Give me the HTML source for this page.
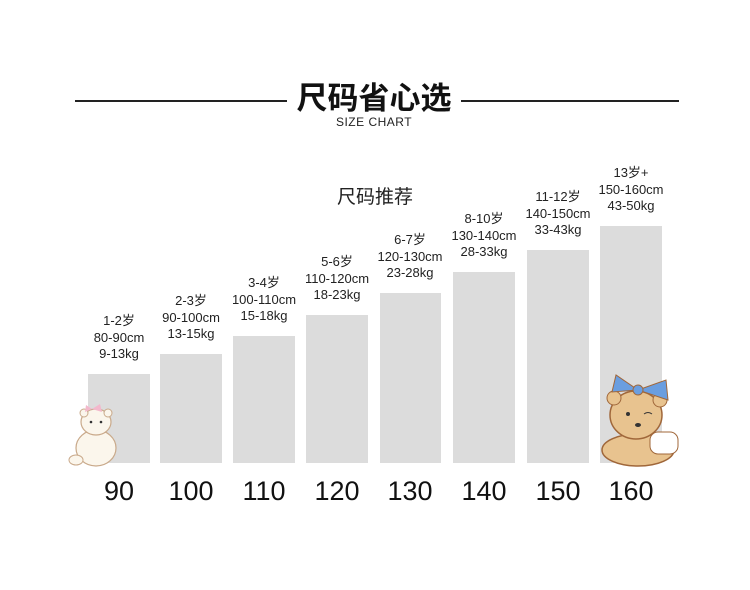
<!DOCTYPE html>
<html><head><meta charset="utf-8"><style>
body{margin:0;width:750px;height:590px;background:#fff;position:relative;overflow:hidden;font-family:"Liberation Sans","Noto Sans CJK SC",sans-serif;color:#222}
.a{position:absolute}
.bar{position:absolute;background:#dcdcdc;bottom:127px}
.lab{position:absolute;width:100px;text-align:center;font-size:13px;line-height:16.5px;color:#222}
.num{position:absolute;width:90px;text-align:center;font-size:27px;top:476px;color:#111}
</style></head><body>
<div class="a" style="left:75px;top:100px;width:212px;height:1.5px;background:#222"></div>
<div class="a" style="left:461px;top:100px;width:218px;height:1.5px;background:#222"></div>
<div class="a" style="left:287px;top:73px;width:174px;text-align:center;font-size:31px;font-weight:bold;color:#111">尺码省心选</div>
<div class="a" style="left:287px;top:115px;width:174px;text-align:center;font-size:12px;letter-spacing:0.5px;color:#222">SIZE CHART</div>
<div class="a" style="left:300px;top:182px;width:150px;text-align:center;font-size:19px;color:#222">尺码推荐</div>

<div class="bar" style="left:88px;width:62px;top:374px"></div>
<div class="bar" style="left:160px;width:62px;top:354px"></div>
<div class="bar" style="left:233px;width:62px;top:336px"></div>
<div class="bar" style="left:306px;width:62px;top:315px"></div>
<div class="bar" style="left:380px;width:61px;top:293px"></div>
<div class="bar" style="left:453px;width:62px;top:272px"></div>
<div class="bar" style="left:527px;width:62px;top:250px"></div>
<div class="bar" style="left:600px;width:62px;top:226px"></div>

<div class="lab" style="left:69px;top:313px">1-2岁<br>80-90cm<br>9-13kg</div>
<div class="lab" style="left:141px;top:293px">2-3岁<br>90-100cm<br>13-15kg</div>
<div class="lab" style="left:214px;top:275px">3-4岁<br>100-110cm<br>15-18kg</div>
<div class="lab" style="left:287px;top:254px">5-6岁<br>110-120cm<br>18-23kg</div>
<div class="lab" style="left:360px;top:232px">6-7岁<br>120-130cm<br>23-28kg</div>
<div class="lab" style="left:434px;top:211px">8-10岁<br>130-140cm<br>28-33kg</div>
<div class="lab" style="left:508px;top:189px">11-12岁<br>140-150cm<br>33-43kg</div>
<div class="lab" style="left:581px;top:165px">13岁+<br>150-160cm<br>43-50kg</div>

<div class="num" style="left:74px">90</div>
<div class="num" style="left:146px">100</div>
<div class="num" style="left:219px">110</div>
<div class="num" style="left:292px">120</div>
<div class="num" style="left:365px">130</div>
<div class="num" style="left:439px">140</div>
<div class="num" style="left:513px">150</div>
<div class="num" style="left:586px">160</div>

<svg class="a" style="left:66px;top:400px" width="60" height="72">
<ellipse cx="30" cy="48" rx="20" ry="18" fill="#fbf6ec" stroke="#c9a98a" stroke-width="1.2"/>
<ellipse cx="30" cy="22" rx="15" ry="13" fill="#fbf6ec" stroke="#c9a98a" stroke-width="1.2"/>
<circle cx="18" cy="13" r="4" fill="#fbf6ec" stroke="#c9a98a"/>
<circle cx="42" cy="13" r="4" fill="#fbf6ec" stroke="#c9a98a"/>
<path d="M26 9 L34 4 L36 12 Z M26 9 L20 5 L19 12 Z" fill="#f3b8cc"/>
<circle cx="25" cy="22" r="1.3" fill="#333"/><circle cx="35" cy="22" r="1.3" fill="#333"/>
<ellipse cx="10" cy="60" rx="7" ry="5" fill="#fbf6ec" stroke="#c9a98a"/>
</svg>
<svg class="a" style="left:598px;top:370px" width="85" height="102">
<ellipse cx="40" cy="80" rx="36" ry="16" fill="#e8c38f" stroke="#a0673a" stroke-width="1.5"/>
<rect x="52" y="62" width="28" height="22" rx="8" fill="#fff" stroke="#a0673a"/>
<ellipse cx="38" cy="45" rx="26" ry="24" fill="#e8c38f" stroke="#a0673a" stroke-width="1.5"/>
<circle cx="16" cy="28" r="7" fill="#e8c38f" stroke="#a0673a"/>
<circle cx="62" cy="30" r="7" fill="#e8c38f" stroke="#a0673a"/>
<path d="M40 20 L18 5 L14 22 Z M40 20 L68 10 L70 30 Z" fill="#6a9ee0" stroke="#a0673a"/>
<circle cx="40" cy="20" r="5" fill="#6a9ee0" stroke="#a0673a"/>
<circle cx="30" cy="44" r="2" fill="#333"/><path d="M46 44 q4 -3 8 0" stroke="#333" fill="none"/>
<ellipse cx="40" cy="55" rx="3" ry="2" fill="#333"/>
</svg>
</body></html>
